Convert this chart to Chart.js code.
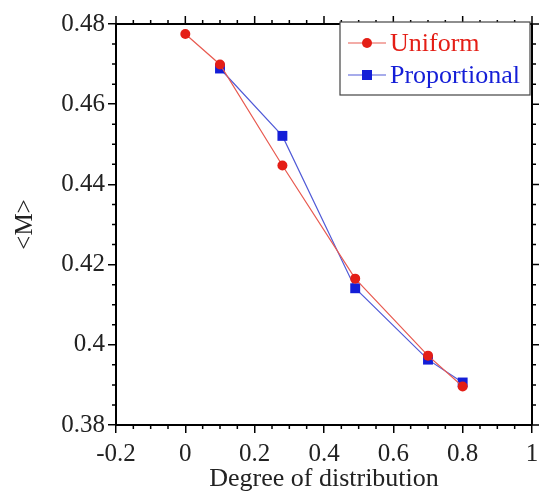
<!DOCTYPE html>
<html>
<head>
<meta charset="utf-8">
<script src="https://cdn.jsdelivr.net/npm/chart.js@4/dist/chart.umd.min.js"></script>
<style>
  html, body { margin: 0; padding: 0; background: #fff; }
  #wrap { width: 539px; height: 495px; }
</style>
</head>
<body>
<div id="wrap"><canvas id="myChart" width="539" height="495"></canvas></div>
<script>
// Data and Axis config
const uniformX = [0, 0.1, 0.28, 0.49, 0.7, 0.8];
const uniformM = [0.4775, 0.4699, 0.4447, 0.4165, 0.3973, 0.3896];
const propX = [0.1, 0.28, 0.49, 0.7, 0.8];
const propM = [0.4689, 0.4521, 0.4141, 0.3963, 0.3906];
const xTicks = [-0.2, 0, 0.2, 0.4, 0.6, 0.8, 1];
const yTicks = [0.38, 0.4, 0.42, 0.44, 0.46, 0.48];

const redColor = 'rgb(228, 30, 22)';
const redLine = 'rgb(232, 90, 80)';
const blueColor = 'rgb(20, 30, 215)';
const blueLine = 'rgb(80, 90, 215)';
const serif = '"Liberation Serif", "Times New Roman", serif';

const fmt = v => String(parseFloat(v.toFixed(3)));

// minor ticks + top/right frame + legend box
const frameTicks = {
  id: 'frame_ticks',
  afterDraw: (chart) => {
    const ctx = chart.ctx;
    const a = chart.chartArea;
    const xs = chart.scales.x, ys = chart.scales.y;
    ctx.save();
    ctx.strokeStyle = '#000';
    ctx.lineWidth = 2;
    ctx.beginPath();
    ctx.moveTo(a.left, a.top); ctx.lineTo(a.right, a.top);
    ctx.moveTo(a.right, a.top); ctx.lineTo(a.right, a.bottom);
    ctx.stroke();
    ctx.lineWidth = 1.5;
    ctx.beginPath();
    for (let i = 0; i <= 24; i++) {
      const v = -0.2 + i * 0.05;
      const px = xs.getPixelForValue(v);
      const len = (i % 4 === 0) ? 8 : 4;
      if (i % 4 !== 0) { ctx.moveTo(px, a.bottom); ctx.lineTo(px, a.bottom + len); }
      ctx.moveTo(px, a.top); ctx.lineTo(px, a.top - len);
    }
    for (let i = 0; i <= 20; i++) {
      const v = 0.38 + i * 0.005;
      const py = ys.getPixelForValue(v);
      const len = (i % 4 === 0) ? 8 : 4;
      if (i % 4 !== 0) { ctx.moveTo(a.left, py); ctx.lineTo(a.left - len, py); }
      ctx.moveTo(a.right, py); ctx.lineTo(a.right + len, py);
    }
    ctx.stroke();

    // legend box
    const bx = 340, by = 22, bw = 190, bh = 73;
    ctx.fillStyle = '#fff';
    ctx.fillRect(bx, by, bw, bh);
    ctx.strokeStyle = '#444';
    ctx.lineWidth = 1.2;
    ctx.strokeRect(bx, by, bw, bh);
    const items = [
      { label: 'Uniform', line: redLine, color: redColor, shape: 'circle', y: by + 21 },
      { label: 'Proportional', line: blueLine, color: blueColor, shape: 'square', y: by + 53 }
    ];
    ctx.font = '26px ' + serif;
    ctx.textBaseline = 'middle';
    items.forEach(it => {
      ctx.strokeStyle = it.line;
      ctx.lineWidth = 1.2;
      ctx.beginPath();
      ctx.moveTo(bx + 8, it.y); ctx.lineTo(bx + 46, it.y);
      ctx.stroke();
      ctx.fillStyle = it.color;
      if (it.shape === 'circle') {
        ctx.beginPath(); ctx.arc(bx + 27, it.y, 5, 0, Math.PI * 2); ctx.fill();
      } else {
        ctx.fillRect(bx + 22, it.y - 5, 10, 10);
      }
      ctx.fillText(it.label, bx + 50, it.y + 1);
    });
    ctx.restore();
  }
};

var ctx = document.getElementById('myChart').getContext('2d');
var chart = new Chart(ctx, {
  type: 'line',
  data: {
    datasets: [
      {
        label: 'Uniform',
        data: uniformX.map((x, i) => ({ x: x, y: uniformM[i] })),
        borderColor: redLine,
        backgroundColor: redColor,
        borderWidth: 1.2,
        pointStyle: 'circle',
        pointRadius: 5,
        pointBorderWidth: 0,
        tension: 0,
        fill: false
      }, {
        label: 'Proportional',
        data: propX.map((x, i) => ({ x: x, y: propM[i] })),
        borderColor: blueLine,
        backgroundColor: blueColor,
        borderWidth: 1.2,
        pointStyle: 'rect',
        pointRadius: 7,
        pointBorderWidth: 0,
        tension: 0,
        fill: false
      }
    ]
  },
  plugins: [frameTicks],
  options: {
    responsive: false,
    animation: false,
    layout: { padding: { left: 0, right: 6, top: 24, bottom: 0 } },
    plugins: {
      legend: { display: false },
      tooltip: { enabled: false }
    },
    scales: {
      x: {
        type: 'linear',
        min: -0.2,
        max: 1,
        afterFit: (s) => { s.height = 70; s.paddingLeft = 0; s.paddingRight = 0; },
        afterBuildTicks: (s) => { s.ticks = xTicks.map(v => ({ value: v })); },
        ticks: {
          color: '#222',
          font: { family: serif, size: 25 },
          padding: 6,
          maxRotation: 0,
          callback: (v) => fmt(v)
        },
        grid: { drawOnChartArea: false, color: '#000', lineWidth: 1.5, tickLength: 8 },
        border: { display: true, color: '#000', width: 2 },
        title: {
          display: true,
          text: 'Degree of distribution',
          color: '#222',
          font: { family: serif, size: 26 },
          padding: { top: 0, bottom: 0 }
        }
      },
      y: {
        min: 0.38,
        max: 0.48,
        afterFit: (s) => { s.width = 116; s.paddingTop = 0; s.paddingBottom = 0; },
        afterBuildTicks: (s) => { s.ticks = yTicks.map(v => ({ value: v })); },
        ticks: {
          color: '#222',
          font: { family: serif, size: 25 },
          padding: 3,
          callback: (v) => fmt(v)
        },
        grid: { drawOnChartArea: false, color: '#000', lineWidth: 1.5, tickLength: 8 },
        border: { display: true, color: '#000', width: 2 },
        title: {
          display: true,
          text: '<M>',
          color: '#222',
          font: { family: serif, size: 25 },
          padding: { top: 10, bottom: 0 }
        }
      }
    }
  }
});
</script>
</body>
</html>
